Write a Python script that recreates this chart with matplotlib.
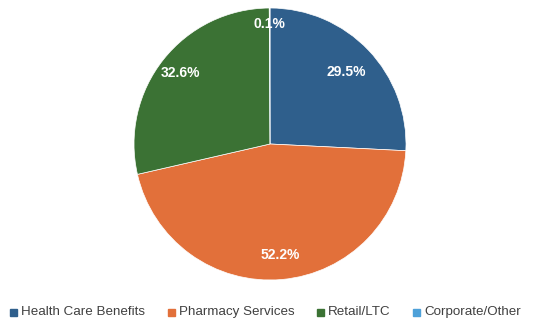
import matplotlib
matplotlib.use('Agg')
import matplotlib.pyplot as plt
import numpy as np

segments = ['Health Care Benefits', 'Pharmacy Services', 'Retail/LTC', 'Corporate/Other']
shares = [29.5, 52.2, 32.6, 0.1]
colors = ['#2f5f8c', '#e2703a', '#3b7234', '#4ea1d9']
label_radius = [0.77, 0.82, 0.84, 0.88]

plt.rcParams['font.family'] = ['Liberation Sans', 'DejaVu Sans']

W, H = 535, 320
fig = plt.figure(figsize=(W / 100, H / 100), dpi=100)
cx, cy, r = 270, 144, 136
ax = fig.add_axes([(cx - r) / W, (H - cy - r) / H, 2 * r / W, 2 * r / H])
wedges, _ = ax.pie(shares, colors=colors, startangle=90, counterclock=False,
                   wedgeprops=dict(edgecolor='#ffffff', linewidth=0.5))
ax.set_xlim(-1, 1)
ax.set_ylim(-1, 1)
ax.set_aspect('equal')

# value labels at the middle of each wedge
for w, val, rr in zip(wedges, shares, label_radius):
    mid = np.deg2rad((w.theta1 + w.theta2) / 2)
    ax.text(rr * np.cos(mid), rr * np.sin(mid), '%.1f%%' % val,
            ha='center', va='center', color='white', fontsize=10, fontweight='bold')

# legend row along the bottom, one square + label per segment
legend_x = [10, 168, 317, 413]
legend_y = 312
for x, name, c in zip(legend_x, segments, colors):
    fig.patches.append(plt.Rectangle((x / W, (H - legend_y - 3.5) / H), 7 / W, 7 / H,
                                     color=c, transform=fig.transFigure, figure=fig))
    fig.text((x + 11) / W, (H - legend_y) / H, name, ha='left', va='center',
             fontsize=9.6, color='#404040')

fig.savefig('out.png', dpi=100)
